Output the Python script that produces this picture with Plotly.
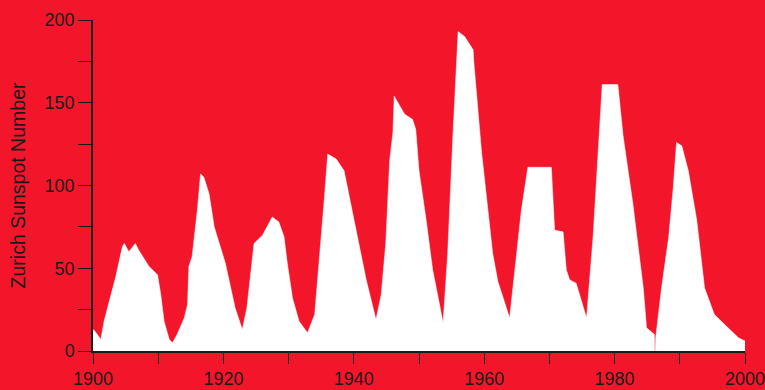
import plotly.graph_objects as go

years = [1900.0, 1900.3, 1901.2, 1901.7, 1902.5, 1903.5, 1904.5, 1904.8, 1905.5, 1906.5,
         1907.0, 1908.6, 1909.9, 1910.4, 1910.9, 1911.7, 1912.2, 1912.9, 1914.0, 1914.5,
         1914.7, 1915.2, 1916.0, 1916.5, 1917.0, 1917.8, 1918.6, 1920.3, 1921.8, 1922.9,
         1923.6, 1924.7, 1926.0, 1927.5, 1928.5, 1929.3, 1929.8, 1930.6, 1931.6, 1932.9,
         1934.0, 1934.7, 1935.5, 1936.0, 1937.3, 1938.5, 1939.3, 1940.3, 1941.9, 1943.4,
         1944.2, 1944.9, 1945.5, 1946.0, 1946.2, 1947.8, 1949.0, 1949.5, 1950.0, 1951.1,
         1952.1, 1953.7, 1954.4, 1955.2, 1956.0, 1957.0, 1958.3, 1958.4, 1959.6, 1961.3,
         1962.1, 1963.9, 1964.7, 1965.7, 1966.7, 1970.3, 1970.8, 1972.1, 1972.6, 1973.1,
         1974.1, 1975.7, 1976.7, 1977.7, 1978.1, 1980.5, 1981.3, 1982.8, 1984.4, 1984.9,
         1986.1, 1986.15, 1986.25, 1986.3, 1987.2, 1988.3, 1989.0, 1989.5, 1990.3, 1991.3,
         1992.6, 1993.8, 1995.3, 1997.4, 1999.0, 2000.0]

sunspots = [13, 12, 7, 18, 30, 45, 63, 65, 60, 65,
            61, 51, 46, 34, 18, 7, 5, 10, 20, 28,
            51, 57, 85, 107, 105, 95, 75, 53, 26, 13,
            26, 65, 70, 81, 78, 69, 53, 32, 18, 11,
            22, 53, 93, 119, 116, 109, 93, 73, 43, 19,
            34, 65, 115, 132, 154, 143, 140, 134, 109, 79,
            49, 17, 59, 130, 193, 190, 182, 175, 120, 59,
            42, 20, 49, 85, 111, 111, 73, 72, 49, 43,
            41, 20, 69, 130, 161, 161, 130, 89, 38, 14,
            10, 0, 0, 8, 38, 69, 99, 126, 124, 109,
            79, 38, 22, 14, 8, 6]

x_tick_labels = [1900, 1920, 1940, 1960, 1980, 2000]
y_tick_labels = [0, 50, 100, 150, 200]

RED = "rgb(243,22,42)"
INK = "#1a1a1a"
FONT = "Liberation Sans, Arial, sans-serif"

fig = go.Figure()
fig.add_trace(go.Scatter(
    x=years, y=sunspots, mode="lines", fill="tozeroy",
    fillcolor="white", line=dict(color="white", width=0.5),
    hoverinfo="x+y", showlegend=False,
))

fig.update_layout(
    width=765, height=390,
    margin=dict(l=93, r=20, t=20, b=39),
    paper_bgcolor=RED, plot_bgcolor=RED,
    font=dict(family=FONT, size=18, color=INK),
    xaxis=dict(
        range=[1900, 2000], tickvals=x_tick_labels, ticktext=[str(v) for v in x_tick_labels],
        automargin=False, ticklabeloverflow="allow",
        showgrid=False, zeroline=False, showline=True, linecolor=INK, linewidth=1.5,
        ticks="outside", ticklen=11, tickwidth=1.3, tickcolor=INK,
        minor=dict(dtick=10, tick0=1900, ticks="outside", ticklen=11, tickwidth=1.3, tickcolor=INK, showgrid=False),
        tickfont=dict(size=18, color=INK),
        ticklabelstandoff=0,
    ),
    yaxis=dict(
        range=[0, 200], tickvals=y_tick_labels, ticktext=[str(v) for v in y_tick_labels],
        automargin=False, ticklabeloverflow="allow",
        showgrid=False, zeroline=False, showline=True, linecolor=INK, linewidth=1.5,
        ticks="outside", ticklen=13, tickwidth=1.3, tickcolor=INK,
        minor=dict(dtick=25, tick0=0, ticks="outside", ticklen=13, tickwidth=1.3, tickcolor=INK, showgrid=False),
        tickfont=dict(size=18, color=INK),
        ticklabelstandoff=0,
        title=dict(text="Zurich Sunspot Number", font=dict(size=19.5, color=INK), standoff=14),
    ),
)

fig.write_html(
    "out.html",
    config={"displayModeBar": False},
    post_script="document.body.style.margin='0';document.body.style.background='" + RED + "';",
)
